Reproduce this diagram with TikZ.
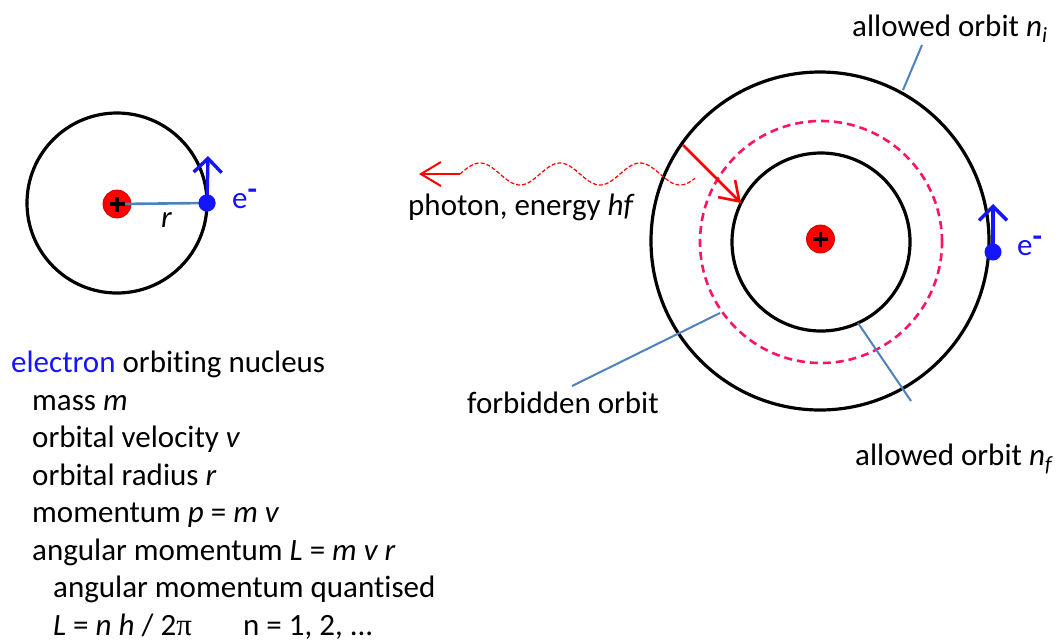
\documentclass[tikz,border=0pt]{standalone}
\usepackage{fontspec}
\setmainfont[Ligatures=NoCommon]{Carlito}
\newfontfamily\grk{Liberation Serif}
\usetikzlibrary{arrows.meta}
\definecolor{eblue}{RGB}{20,20,255}
\definecolor{lead}{RGB}{79,129,189}
\definecolor{pinkd}{RGB}{255,20,100}
\definecolor{nred}{RGB}{255,0,0}
\begin{document}
\begin{tikzpicture}[x=1pt,y=-1pt,
  font=\fontsize{31}{37.5}\selectfont,
  orbit/.style={circle, draw=black, line width=3.2pt, inner sep=0pt},
  nucl/.style={circle, fill=nred, draw=red!80!black, line width=0.8pt, minimum size=28pt, inner sep=0pt},
  elec/.style={circle, fill=eblue, minimum size=17pt, inner sep=0pt},
  plussign/.style={draw=black, line width=3.4pt},
  leader/.style={draw=lead, line width=2pt},
  earrow/.style={draw=eblue, line width=3.4pt, -{Straight Barb[length=14pt,width=28pt]}},
  rarrow/.style={draw=red, line width=2.6pt, -{Straight Barb[length=18pt,width=24pt]}},
  txt/.style={anchor=base west, inner sep=0pt, text=black}
]
\useasboundingbox (0,0) rectangle (1059,641);

% ---------- left atom ----------
\node[orbit, minimum size=180pt] (orbL) at (117,203) {};
\node[nucl] (nucL) at (117,204) {};
\node[elec] (eL) at (207,203) {};
\draw[draw=lead, line width=2.6pt] (nucL.center) -- (eL.center);
\draw[plussign] (nucL.center) ++(-7.5,0) -- ++(15,0);
\draw[plussign] (nucL.center) ++(0,-7.5) -- ++(0,15);
\node[elec] at (eL) {};
\coordinate (eLtip) at (208,156);
\draw[earrow] (eL.center) -- (eLtip);
\node[txt] (rlab) at (161,227) {\textit{r}};
\node[txt, text=eblue] (eLlab) at (232,208) {e\raisebox{9pt}{\textbf{-}}};

% ---------- right atom ----------
\node[orbit, minimum size=338pt] (orbOut) at (820,241) {};
\node[circle, draw=pinkd, line width=2.6pt, dash pattern=on 8pt off 5pt, minimum size=242pt, inner sep=0pt] (orbForb) at (821,242) {};
\node[orbit, minimum size=178pt] (orbIn) at (821,242) {};
\node[nucl] (nucR) at (820.5,239) {};
\draw[plussign] (nucR.center) ++(-7.5,0) -- ++(15,0);
\draw[plussign] (nucR.center) ++(0,-7.5) -- ++(0,15);
\node[elec] (eR) at (993,252) {};
\coordinate (eRtip) at (993,204);
\draw[earrow] (eR.center) -- (eRtip);
\node[txt, text=eblue] (eRlab) at (1017,255) {e\raisebox{9pt}{\textbf{-}}};

% electron jump
\coordinate (jumpA) at (683,145);
\coordinate (jumpB) at (741,203);
\draw[rarrow] (jumpA) -- (jumpB);

% photon
\coordinate (phA) at (460,174);
\coordinate (phTip) at (419,174);
\draw[draw=red, line width=2pt, -{Straight Barb[length=20pt,width=24pt]}] (phA) -- (phTip);
\draw[red, line width=1.2pt, dash pattern=on 4pt off 2pt, domain=460:695, samples=120, smooth]
  plot (\x, {174-11*sin(4.5*(\x-460))});
\node[txt] (phlab) at (408,215) {photon, energy \textit{hf}};

% labels with leaders
\node[txt] (niLab) at (852,36) {allowed orbit \textit{n}\textsubscript{\textit{i}}};
\coordinate (niA) at (922,45);
\coordinate (niB) at (903,90);
\draw[leader] (niA) -- (niB);

\node[txt] (forbLab) at (467,413) {forbidden orbit};
\coordinate (fbA) at (572,386);
\coordinate (fbB) at (720,313);
\draw[leader] (fbA) -- (fbB);

\node[txt] (nfLab) at (855,465) {allowed orbit \textit{n}\textsubscript{\textit{f}}};
\coordinate (nfA) at (911,401);
\coordinate (nfB) at (858,323);
\draw[leader] (nfA) -- (nfB);

% ---------- text block ----------
\node[txt] (t1) at (11,372.5) {\textcolor{eblue}{electron} orbiting nucleus};
\node[txt] (t2) at (32,410) {mass \textit{m}};
\node[txt] (t3) at (32,447.5) {orbital velocity \textit{v}};
\node[txt] (t4) at (32,485) {orbital radius \textit{r}};
\node[txt] (t5) at (32,522.5) {momentum \textit{p} = \textit{m v}};
\node[txt] (t6) at (32,560) {angular momentum \textit{L} = \textit{m v r}};
\node[txt] (t7) at (53,597.5) {angular momentum quantised};
\node[txt] (t8) at (53,635) {\textit{L} = \textit{n h} / 2{\grk π}};
\node[txt] (t9) at (243,635) {n = 1, 2, ...};
\end{tikzpicture}
\end{document}
